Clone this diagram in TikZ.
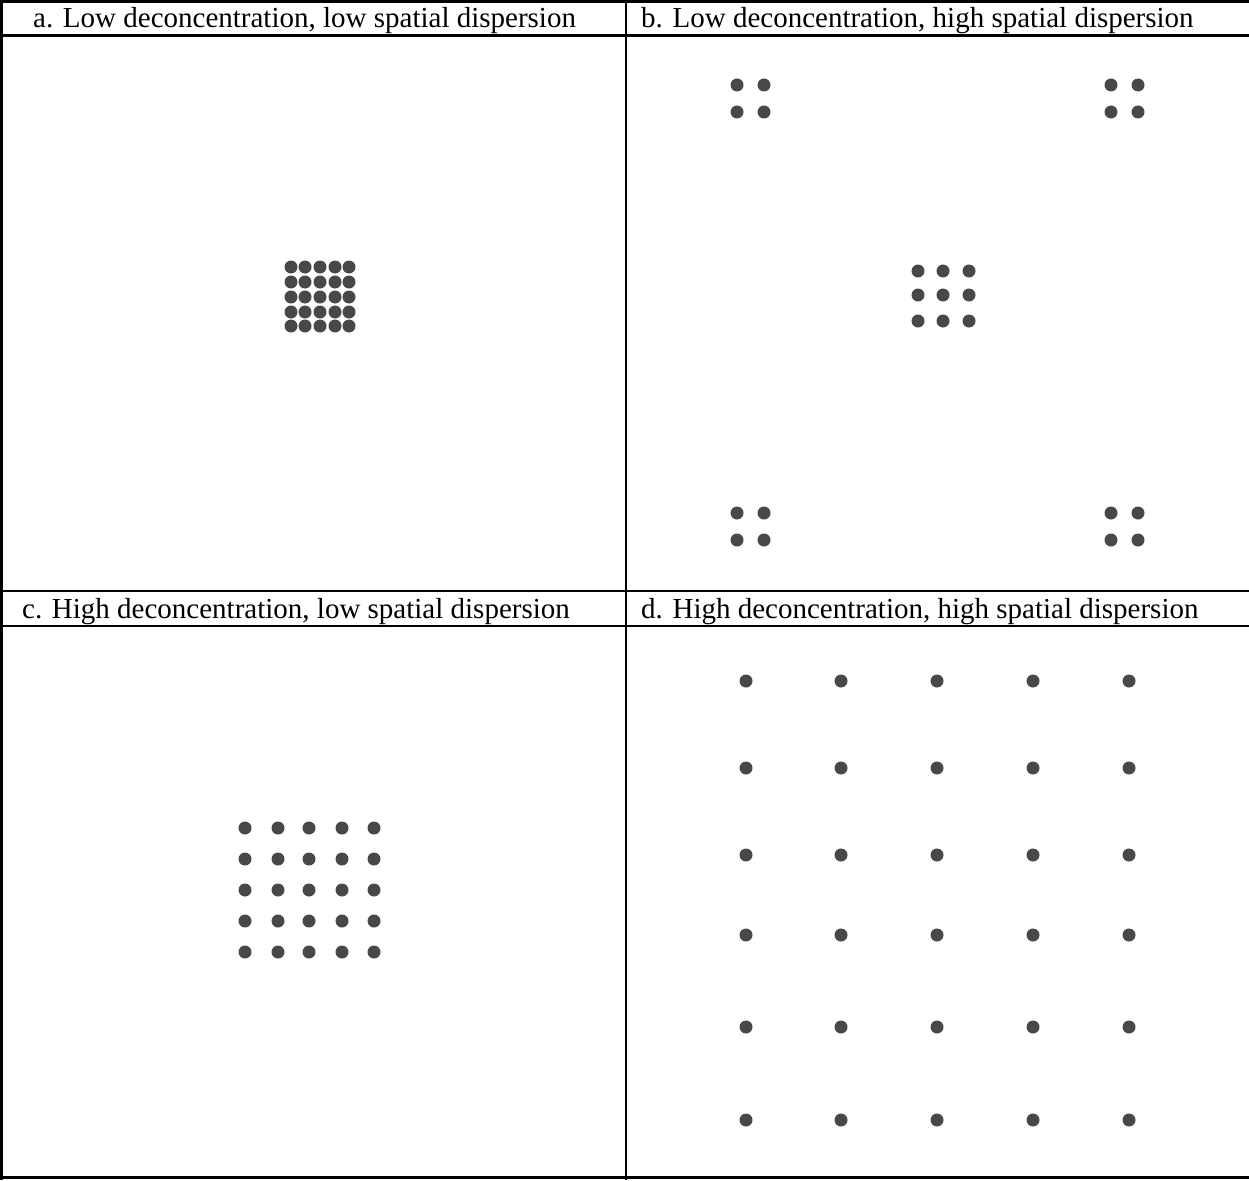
\documentclass[tikz,border=0pt]{standalone}
\usepackage{fontspec}
\setmainfont{Liberation Serif}
\definecolor{dotgray}{RGB}{72,72,72}

\begin{document}
\begin{tikzpicture}[x=1pt,y=-1pt,
 grid/.style={line width=2.6pt},
 head/.style={anchor=base west,inner sep=0pt,font=\fontsize{29}{34}\selectfont},
 dot/.style={circle,fill=dotgray,inner sep=0pt,minimum size=13pt}]
\useasboundingbox (0,0) rectangle (1249,1180);
% table rules
\draw[grid] (1.5,0) -- (1.5,1180);
\draw[grid] (626,0) -- (626,1180);
\foreach \y in {1.5,35.5,591,626,1177.5}
  \draw[grid] (0,\y) -- (1249,\y);
% headers
\node[head] (ha) at (33,28) {a. Low deconcentration, low spatial dispersion};
\node[head] (hb) at (641,28) {b. Low deconcentration, high spatial dispersion};
\node[head] (hc) at (22,618) {c. High deconcentration, low spatial dispersion};
\node[head] (hd) at (641,618) {d. High deconcentration, high spatial dispersion};
% a: dense block
\foreach \i/\x in {1/291,2/305,3/320,4/335,5/349}
  \foreach \j/\y in {1/267,2/282,3/297,4/312,5/326}
    \node[dot] (a\i\j) at (\x,\y) {};
% b: four corner groups and a centre group
\foreach \g/\cx/\cy in {nw/737/85,ne/1111/85,sw/737/513,se/1111/513}
  \foreach \i in {0,1}
    \foreach \j in {0,1}
      \node[dot] (b\g\i\j) at (\cx+27*\i,\cy+27*\j) {};
\foreach \i/\x in {1/918,2/943,3/969}
  \foreach \j/\y in {1/271,2/295,3/321}
    \node[dot] (bc\i\j) at (\x,\y) {};
% c: spread block
\foreach \i/\x in {1/245,2/278,3/309,4/342,5/374}
  \foreach \j/\y in {1/828,2/859,3/890,4/921,5/952}
    \node[dot] (c\i\j) at (\x,\y) {};
% d: full grid
\foreach \i/\x in {1/746,2/841,3/937,4/1033,5/1129}
  \foreach \j/\y in {1/681,2/768,3/855,4/935,5/1027,6/1120}
    \node[dot] (d\i\j) at (\x,\y) {};
\end{tikzpicture}
\end{document}
